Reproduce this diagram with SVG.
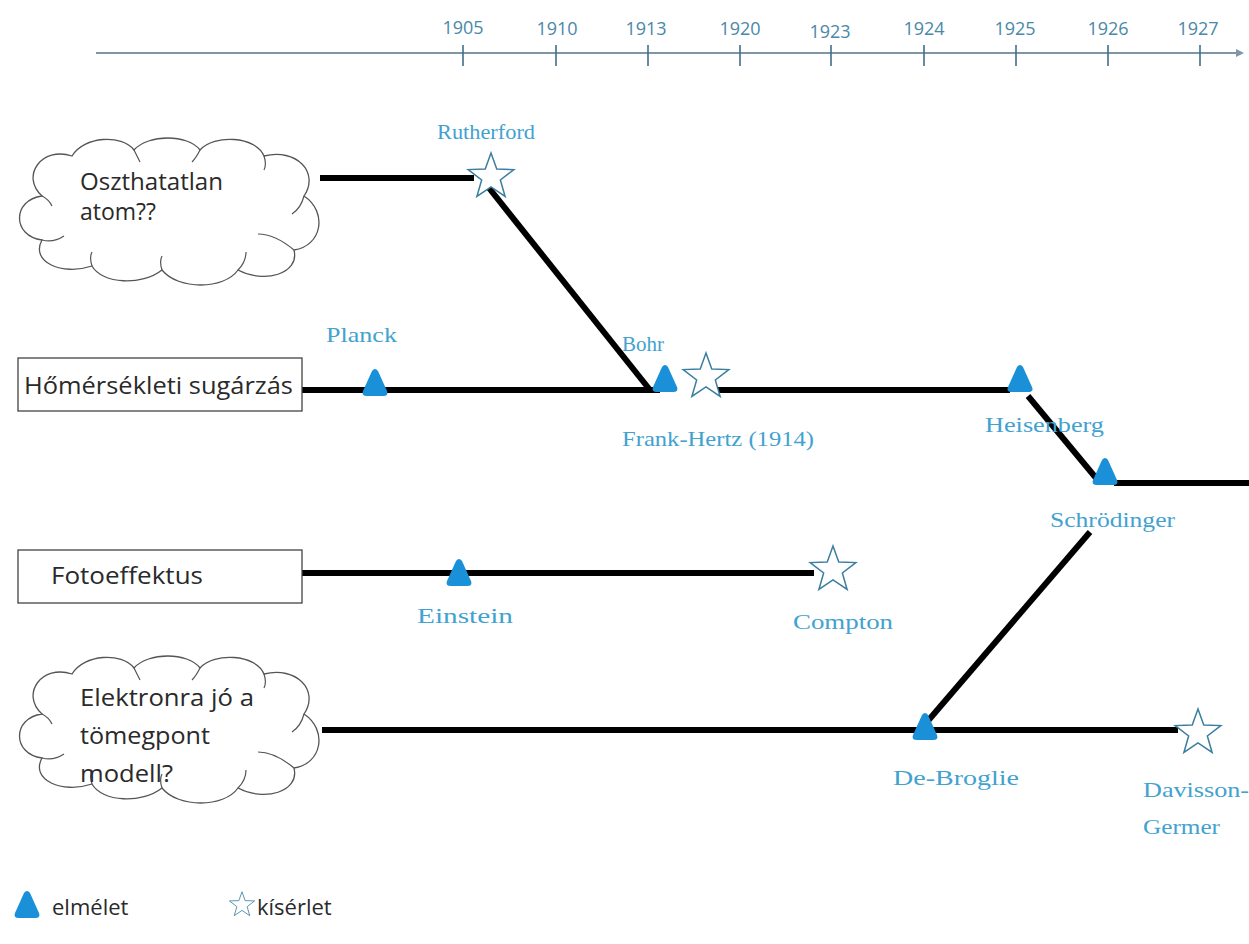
<svg xmlns="http://www.w3.org/2000/svg" xmlns:xlink="http://www.w3.org/1999/xlink" width="1249" height="944" viewBox="0 0 1249 944">
<style>
.year{font-family:"Open Sans","Liberation Sans",sans-serif;font-size:18px;fill:#4a88a8;text-anchor:middle}
.lbl{font-family:"Liberation Serif","DejaVu Serif",serif;font-size:22px;fill:#42a2cf}
.node{font-family:"Open Sans","Liberation Sans",sans-serif;font-size:23px;fill:#2a2a2a}
.leg{font-family:"Open Sans","Liberation Sans",sans-serif;font-size:22px;fill:#2a2a2a}
.conn{stroke:#000;stroke-width:6;fill:none;stroke-linecap:butt}
.tick{stroke:#3f6f8c;stroke-width:1.6}
.cloud{fill:#fff;stroke:#555;stroke-width:1.3}
.cloudin{fill:none;stroke:#555;stroke-width:1.2}
.box{fill:#fff;stroke:#444;stroke-width:1.3}
.theory{fill:#1a90d8}
.exp{fill:#fff;stroke:#3a7fa0;stroke-width:1.5;stroke-linejoin:miter}
</style>
<defs>
<path id="tri" d="M -3,-12 Q 0,-16 3,-12 L 12,8 Q 14,13 8,13 L -8,13 Q -14,13 -12,8 Z"/>
<polygon id="star" points="0,-24 5.76,-7.94 22.83,-7.42 9.34,3.03 14.11,19.42 0,9.8 -14.11,19.42 -9.34,3.03 -22.83,-7.42 -5.76,-7.94"/>
<path id="cloudshape" d="M 30,62 C 8,42 30,12 60,22 C 72,2 110,0 122,16 C 136,0 176,0 188,16 C 202,0 244,2 252,22 C 284,14 308,38 292,62 C 316,78 310,112 282,116 C 288,140 252,150 226,136 C 212,156 166,156 150,136 C 130,152 90,150 80,132 C 50,142 18,128 30,106 C 0,102 0,66 30,62 Z"/>
<path id="cloudinner" d="M 30,106 C 38,108 46,106 52,102 M 80,132 C 78,126 78,122 80,118 M 150,136 C 148,130 148,126 150,122 M 226,136 C 232,130 234,124 234,118 M 282,116 C 270,106 258,100 246,100 M 292,62 C 290,70 286,76 280,80 M 252,22 C 254,28 254,32 252,36 M 188,16 C 186,20 184,24 180,28 M 122,16 C 124,20 126,24 128,28 M 30,62 C 34,64 38,68 40,72"/>
</defs>
<rect width="1249" height="944" fill="#fff"/>

<g id="timeline">
<line x1="96" y1="53" x2="1236" y2="53" stroke="#7f96a6" stroke-width="1.8"/>
<polygon points="1236,49 1244,53 1236,57" fill="#7f96a6"/>
<line class="tick" x1="463" y1="45" x2="463" y2="66"/>
<line class="tick" x1="556" y1="45" x2="556" y2="66"/>
<line class="tick" x1="648" y1="45" x2="648" y2="66"/>
<line class="tick" x1="740" y1="45" x2="740" y2="66"/>
<line class="tick" x1="831" y1="45" x2="831" y2="66"/>
<line class="tick" x1="924" y1="45" x2="924" y2="66"/>
<line class="tick" x1="1016" y1="45" x2="1016" y2="66"/>
<line class="tick" x1="1108" y1="45" x2="1108" y2="66"/>
<line class="tick" x1="1200" y1="45" x2="1200" y2="66"/>
<text class="year" x="463" y="34">1905</text>
<text class="year" x="557" y="35">1910</text>
<text class="year" x="646" y="35">1913</text>
<text class="year" x="740" y="35">1920</text>
<text class="year" x="830" y="38">1923</text>
<text class="year" x="924" y="35">1924</text>
<text class="year" x="1015" y="35">1925</text>
<text class="year" x="1108" y="35">1926</text>
<text class="year" x="1198" y="35">1927</text>
</g>

<g id="connectors">
<line class="conn" x1="320" y1="178" x2="474" y2="178"/>
<line class="conn" x1="489" y1="188" x2="650" y2="390"/>
<line class="conn" x1="300" y1="390" x2="660" y2="390"/>
<line class="conn" x1="716" y1="390" x2="1010" y2="390"/>
<line class="conn" x1="1028" y1="396" x2="1096" y2="478"/>
<line class="conn" x1="1114" y1="483" x2="1249" y2="483"/>
<line class="conn" x1="302" y1="573" x2="814" y2="573"/>
<line class="conn" x1="1090" y1="532" x2="927" y2="722"/>
<line class="conn" x1="322" y1="730" x2="1178" y2="730"/>
</g>

<g id="cloud-oszthatatlan">
<use xlink:href="#cloudshape" class="cloud" transform="translate(12,134)"/>
<use xlink:href="#cloudinner" class="cloudin" transform="translate(12,134)"/>
<text class="node" x="80" y="190" textLength="143" lengthAdjust="spacingAndGlyphs">Oszthatatlan</text>
<text class="node" x="80" y="220">atom??</text>
</g>

<g id="box-homerseklet">
<rect class="box" x="18" y="358" width="284" height="53"/>
<text class="node" x="24" y="394" textLength="269" lengthAdjust="spacingAndGlyphs">Hőmérsékleti sugárzás</text>
</g>

<g id="box-fotoeffektus">
<rect class="box" x="18" y="550" width="284" height="53"/>
<text class="node" x="51" y="584" textLength="152" lengthAdjust="spacingAndGlyphs">Fotoeffektus</text>
</g>

<g id="cloud-elektron">
<use xlink:href="#cloudshape" class="cloud" transform="translate(12,652)"/>
<use xlink:href="#cloudinner" class="cloudin" transform="translate(12,652)"/>
<text class="node" x="80" y="706" textLength="174" lengthAdjust="spacingAndGlyphs">Elektronra jó a</text>
<text class="node" x="80" y="744" textLength="130" lengthAdjust="spacingAndGlyphs">tömegpont</text>
<text class="node" x="80" y="782" textLength="93" lengthAdjust="spacingAndGlyphs">modell?</text>
</g>

<g id="rutherford">
<use xlink:href="#star" class="exp" transform="translate(491,177)"/>
<text class="lbl" x="437" y="139" textLength="98" lengthAdjust="spacingAndGlyphs">Rutherford</text>
</g>
<g id="planck">
<use xlink:href="#tri" class="theory" transform="translate(375,383)"/>
<text class="lbl" x="326" y="342" textLength="71" lengthAdjust="spacingAndGlyphs">Planck</text>
</g>
<g id="bohr">
<use xlink:href="#tri" class="theory" transform="translate(665,379)"/>
<text class="lbl" x="622" y="351" textLength="42" lengthAdjust="spacingAndGlyphs">Bohr</text>
</g>
<g id="frank-hertz">
<use xlink:href="#star" class="exp" transform="translate(706,377)"/>
<text class="lbl" x="622" y="446" textLength="192" lengthAdjust="spacingAndGlyphs">Frank-Hertz (1914)</text>
</g>
<g id="heisenberg">
<use xlink:href="#tri" class="theory" transform="translate(1020,379)"/>
<text class="lbl" x="985" y="432" textLength="119" lengthAdjust="spacingAndGlyphs">Heisenberg</text>
</g>
<g id="schrodinger">
<use xlink:href="#tri" class="theory" transform="translate(1105,472)"/>
<text class="lbl" x="1050" y="527" textLength="125" lengthAdjust="spacingAndGlyphs">Schrödinger</text>
</g>
<g id="einstein">
<use xlink:href="#tri" class="theory" transform="translate(459,573)"/>
<text class="lbl" x="417" y="623" textLength="96" lengthAdjust="spacingAndGlyphs">Einstein</text>
</g>
<g id="compton">
<use xlink:href="#star" class="exp" transform="translate(833,570)"/>
<text class="lbl" x="793" y="629" textLength="100" lengthAdjust="spacingAndGlyphs">Compton</text>
</g>
<g id="de-broglie">
<use xlink:href="#tri" class="theory" transform="translate(925,727)"/>
<text class="lbl" x="893" y="785" textLength="126" lengthAdjust="spacingAndGlyphs">De-Broglie</text>
</g>
<g id="davisson-germer">
<use xlink:href="#star" class="exp" transform="translate(1198,733)"/>
<text class="lbl" x="1143" y="797" textLength="106" lengthAdjust="spacingAndGlyphs">Davisson-</text>
<text class="lbl" x="1143" y="834" textLength="77" lengthAdjust="spacingAndGlyphs">Germer</text>
</g>

<g id="legend">
<use xlink:href="#tri" class="theory" transform="translate(27,905)"/>
<text class="leg" x="52" y="915">elmélet</text>
<use xlink:href="#star" class="exp" transform="translate(242,905) scale(0.55)"/>
<text class="leg" x="257" y="915">kísérlet</text>
</g>
</svg>
